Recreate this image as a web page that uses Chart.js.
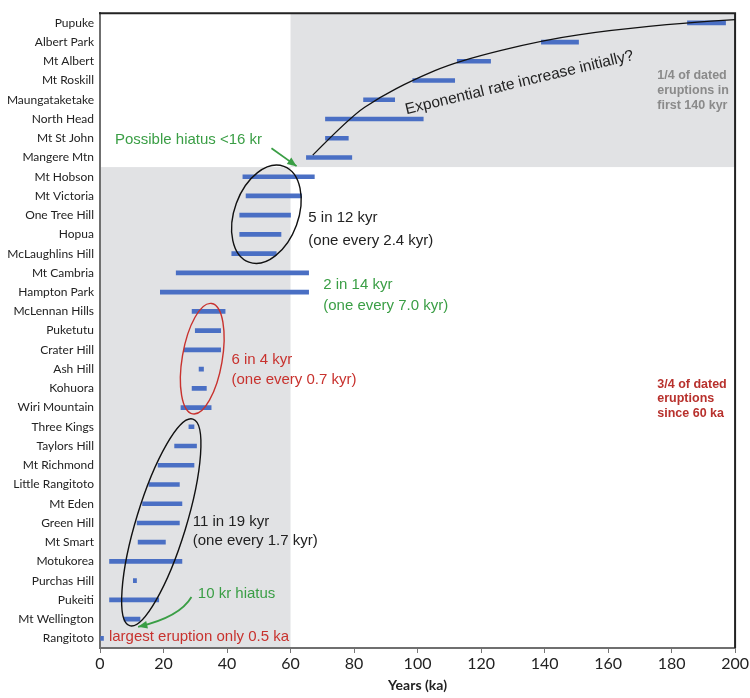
<!DOCTYPE html>
<html>
<head>
<meta charset="utf-8">
<script src="https://cdn.jsdelivr.net/npm/chart.js@4/dist/chart.umd.min.js"></script>
<style>
html, body { margin: 0; padding: 0; background: #fff; }
</style>
</head>
<body>
<canvas id="chart" width="750" height="698"></canvas>
<script>
// Auckland volcanic field - eruption age ranges (ka)
const volcanoes = [
    'Pupuke', 'Albert Park', 'Mt Albert', 'Mt Roskill', 'Maungataketake',
    'North Head', 'Mt St John', 'Mangere Mtn', 'Mt Hobson', 'Mt Victoria',
    'One Tree Hill', 'Hopua', 'McLaughlins Hill', 'Mt Cambria', 'Hampton Park',
    'McLennan Hills', 'Puketutu', 'Crater Hill', 'Ash Hill', 'Kohuora',
    'Wiri Mountain', 'Three Kings', 'Taylors Hill', 'Mt Richmond', 'Little Rangitoto',
    'Mt Eden', 'Green Hill', 'Mt Smart', 'Motukorea', 'Purchas Hill',
    'Pukeiti', 'Mt Wellington', 'Rangitoto'
];
const ageMin = [
    185, 139, 112.5, 98.5, 83,
    71, 71, 65, 45, 46,
    44, 44, 41.5, 24, 19,
    29, 30, 26.5, 31.2, 29,
    25.5, 28, 23.5, 18.3, 15.4,
    13.4, 11.7, 12, 3, 10.5,
    3, 7.6, 0.2
];
const ageMax = [
    197, 150.7, 123, 111.7, 92.8,
    101.8, 78.2, 79.3, 67.5, 63.5,
    60, 57, 55.5, 65.7, 65.7,
    39.4, 38, 38, 32.6, 33.5,
    35, 29.6, 30.4, 29.6, 25,
    25.8, 25, 20.6, 25.8, 11.5,
    18.5, 12.6, 1.1
];
const xTicks = [0, 20, 40, 60, 80, 100, 120, 140, 160, 180, 200];

// hand-drawn "exponential" guide curve (ka, row index)
const curveKa = [67, 78.8, 87.9, 98.4, 112.5, 140.2, 161.1, 184.6, 200];
const curveRow = [6.88, 4.89, 3.88, 2.98, 1.99, 0.87, 0.38, 0.0, -0.17];

const barColor = '#4a6fc4';
const green = '#3a9e45';
const red = '#c8322e';

// shaded blocks and drawn notes
const notesPlugin = {
    id: 'notes',
    beforeDraw(chart) {
        const ctx = chart.ctx;
        const x = chart.scales.x, y = chart.scales.y;
        const split = y.getPixelForValue(7.5);
        ctx.save();
        ctx.fillStyle = '#e1e2e4';
        ctx.fillRect(x.getPixelForValue(60), y.top, x.getPixelForValue(200) - x.getPixelForValue(60), split - y.top);
        ctx.fillRect(x.getPixelForValue(0), split, x.getPixelForValue(60) - x.getPixelForValue(0), y.bottom - split);
        ctx.restore();
    },
    afterDraw(chart) {
        const ctx = chart.ctx;
        const x = chart.scales.x, y = chart.scales.y;
        const px = v => x.getPixelForValue(v);
        const py = v => y.getPixelForValue(v);
        ctx.save();

        // frame (top + right)
        ctx.strokeStyle = '#222';
        ctx.lineWidth = 2;
        ctx.beginPath();
        ctx.moveTo(x.left - 1, y.top);
        ctx.lineTo(x.right, y.top);
        ctx.lineTo(x.right, y.bottom);
        ctx.stroke();

        // curve
        ctx.strokeStyle = '#111';
        ctx.lineWidth = 1.3;
        ctx.beginPath();
        const pts = curveKa.map((k, i) => [px(k), py(curveRow[i])]);
        ctx.moveTo(pts[0][0], pts[0][1]);
        for (let i = 1; i < pts.length - 1; i++) {
            const mx = (pts[i][0] + pts[i + 1][0]) / 2;
            const my = (pts[i][1] + pts[i + 1][1]) / 2;
            ctx.quadraticCurveTo(pts[i][0], pts[i][1], mx, my);
        }
        ctx.lineTo(pts[pts.length - 1][0], pts[pts.length - 1][1]);
        ctx.stroke();

        // ellipses
        const ellipse = (k, r, rx, ry, rot, color) => {
            ctx.strokeStyle = color;
            ctx.lineWidth = 1.4;
            ctx.beginPath();
            ctx.ellipse(px(k), py(r), rx, ry, rot, 0, Math.PI * 2);
            ctx.stroke();
        };
        ellipse(52.4, 9.95, 32, 51, 0.35, '#111');
        ellipse(32.2, 17.46, 20, 56, 0.17, red);
        ellipse(19.3, 25.97, 25, 108, 0.297, '#111');

        // arrows
        const head = (x0, y0, x1, y1, color) => {
            const a = Math.atan2(y1 - y0, x1 - x0);
            ctx.fillStyle = color;
            ctx.beginPath();
            ctx.moveTo(x1, y1);
            ctx.lineTo(x1 - 10 * Math.cos(a - 0.4), y1 - 10 * Math.sin(a - 0.4));
            ctx.lineTo(x1 - 10 * Math.cos(a + 0.4), y1 - 10 * Math.sin(a + 0.4));
            ctx.closePath();
            ctx.fill();
        };
        ctx.strokeStyle = green;
        ctx.lineWidth = 1.8;
        ctx.beginPath();
        ctx.moveTo(px(54), py(6.52));
        ctx.lineTo(px(61.9), py(7.45));
        ctx.stroke();
        head(px(54), py(6.52), px(61.9), py(7.45), green);

        ctx.beginPath();
        ctx.moveTo(px(28.8), py(29.85));
        ctx.quadraticCurveTo(px(25.1), py(30.9), px(12.0), py(31.4));
        ctx.stroke();
        head(px(25.1), py(30.9), px(12.0), py(31.4), green);

        // texts
        const text = (s, k, r, color, font) => {
            ctx.fillStyle = color;
            ctx.font = font;
            ctx.textAlign = 'left';
            ctx.textBaseline = 'middle';
            ctx.fillText(s, px(k), py(r));
        };
        const f15 = '15px "Liberation Sans", Arial, sans-serif';
        const b12 = 'bold 12.5px "Liberation Sans", Arial, sans-serif';
        text('Possible hiatus <16 kr', 4.7, 6.1, green, f15);
        text('5 in 12 kyr', 65.6, 10.15, '#222', f15);
        text('(one every 2.4 kyr)', 65.6, 11.35, '#222', f15);
        text('2 in 14 kyr', 70.3, 13.64, green, f15);
        text('(one every 7.0 kyr)', 70.3, 14.73, green, f15);
        text('6 in 4 kyr', 41.4, 17.54, red, f15);
        text('(one every 0.7 kyr)', 41.4, 18.57, red, f15);
        text('11 in 19 kyr', 29.2, 25.96, '#222', f15);
        text('(one every 1.7 kyr)', 29.2, 26.94, '#222', f15);
        text('10 kr hiatus', 30.8, 29.7, green, f15);
        text('largest eruption only 0.5 ka', 2.8, 31.93, red, f15);
        text('1/4 of dated', 175.5, 2.72, '#8a8a8a', b12);
        text('eruptions in', 175.5, 3.52, '#8a8a8a', b12);
        text('first 140 kyr', 175.5, 4.32, '#8a8a8a', b12);
        text('3/4 of dated', 175.5, 18.8, '#b8312d', b12);
        text('eruptions', 175.5, 19.55, '#b8312d', b12);
        text('since 60 ka', 175.5, 20.3, '#b8312d', b12);

        // rotated label along the curve
        ctx.translate(px(96.5), py(4.75));
        ctx.rotate(-0.235);
        ctx.fillStyle = '#222';
        ctx.font = '15.5px "Liberation Sans", Arial, sans-serif';
        ctx.textAlign = 'left';
        ctx.textBaseline = 'alphabetic';
        ctx.fillText('Exponential rate increase initially?', 0, 0);
        ctx.restore();
    }
};

const chart = new Chart(document.getElementById('chart'), {
    type: 'bar',
    data: {
        labels: volcanoes,
        datasets: [{
            data: volcanoes.map((v, i) => [ageMin[i], ageMax[i]]),
            backgroundColor: barColor,
            barThickness: 4,
            borderSkipped: false
        }]
    },
    options: {
        indexAxis: 'y',
        responsive: false,
        animation: false,
        layout: { padding: { top: 13, right: 13, left: 0, bottom: 0 } },
        plugins: {
            legend: { display: false },
            tooltip: { enabled: false }
        },
        scales: {
            x: {
                min: 0,
                max: 200,
                afterBuildTicks: s => { s.ticks = xTicks.map(v => ({ value: v })); },
                afterFit: s => { s.height = 50; },
                ticks: {
                    color: '#222',
                    font: { family: 'Lato', size: 16 },
                    padding: 1,
                    maxRotation: 0
                },
                grid: { drawOnChartArea: false, tickLength: 5, color: '#777' },
                border: { color: '#6f6f6f', width: 2 },
                title: {
                    display: true,
                    text: 'Years (ka)',
                    color: '#222',
                    font: { family: 'Lato', size: 14, weight: 'bold' },
                    padding: { top: 9 }
                }
            },
            y: {
                afterFit: s => { s.width = 100; },
                ticks: {
                    color: '#222',
                    font: { family: 'Lato', size: 12 },
                    padding: 6,
                    autoSkip: false
                },
                grid: { display: false, drawTicks: false },
                border: { color: '#6f6f6f', width: 2 }
            }
        }
    },
    plugins: [notesPlugin]
});
</script>
</body>
</html>
